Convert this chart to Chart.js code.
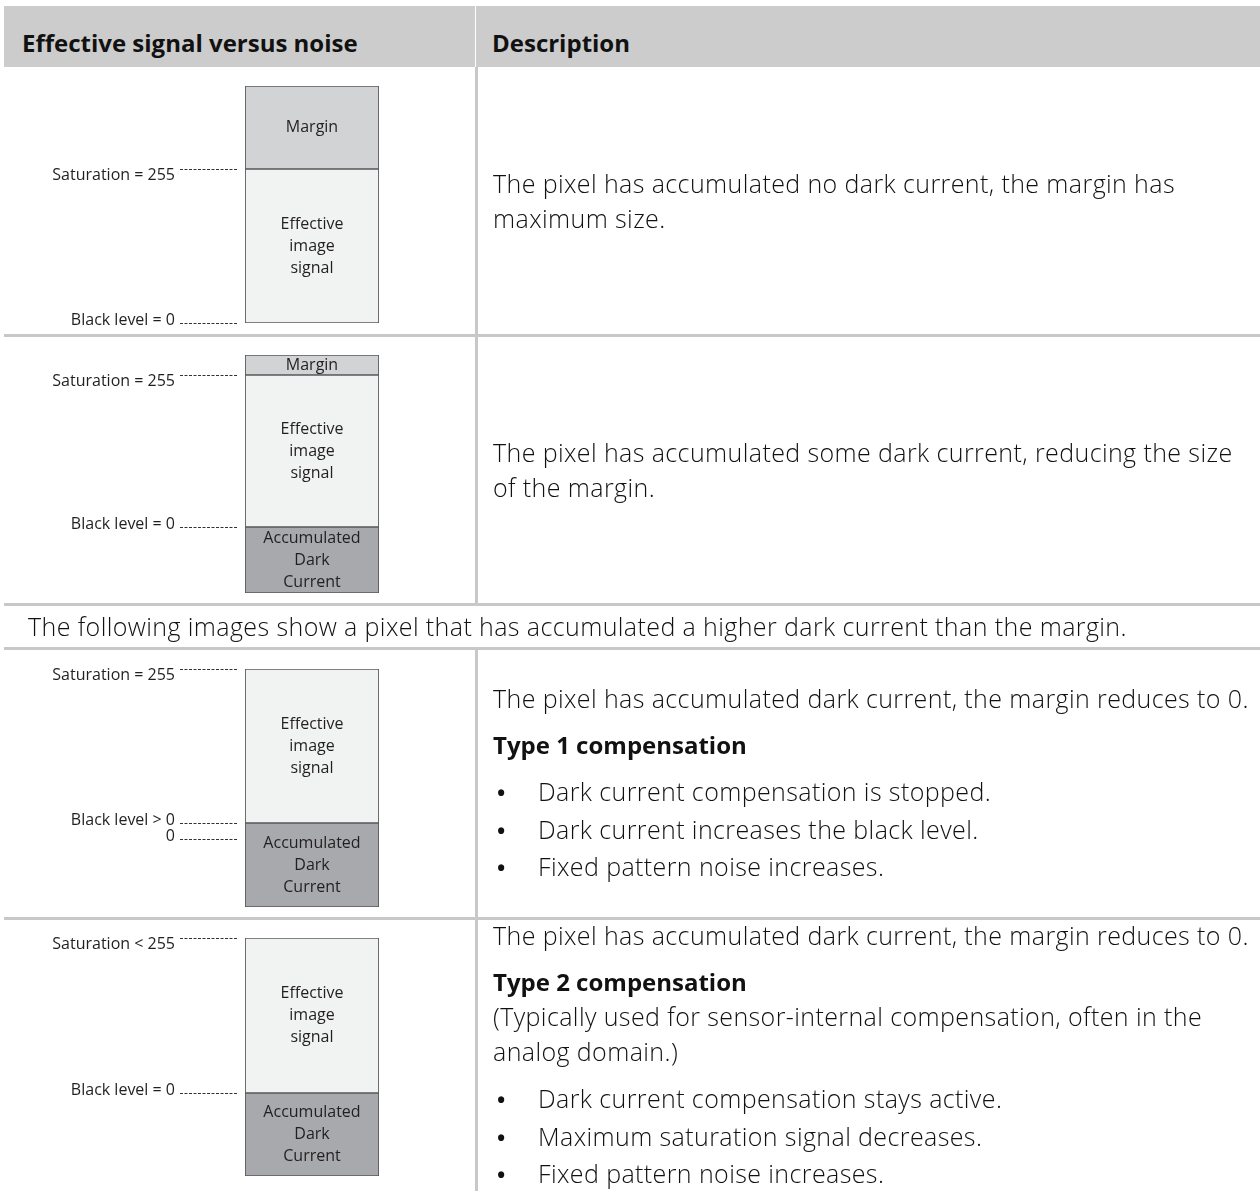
<!DOCTYPE html>
<html>
<head>
<meta charset="utf-8">
<script src="https://cdn.jsdelivr.net/npm/chart.js@4.4.1/dist/chart.umd.min.js"></script>
<style>
  body { margin: 0; background: #fff; font-family: "Open Sans", sans-serif; color: #111; }
  #page { position: relative; width: 1260px; height: 1191px; overflow: hidden; }
  .tbl { position: absolute; left: 4px; top: 6px; width: 1256px; }
  .hdr { display: flex; height: 61px; background: #cccccc; }
  .hdr div { font-weight: 700; font-size: 24px; line-height: 38px; padding-top: 18px; box-sizing: border-box; }
  .hdr .c1 { width: 472px; border-right: 1px solid #fff; padding-left: 18px; }
  .hdr .c2 { flex: 1; padding-left: 16px; }
  .row { display: flex; border-bottom: 3px solid #c8c8c8; }
  .row .c1 { width: 471px; border-right: 3px solid #c8c8c8; }
  .row .c1 canvas { display: block; }
  .row .c2 { flex: 1; padding-left: 15px; display: flex; flex-direction: column; justify-content: center;
             font-size: 25px; font-weight: 300; letter-spacing: 0.4px; line-height: 35px; white-space: nowrap; }
  .row .c2 p { margin: 0; }
  .row .c2 p + p, .row .c2 p + ul, .row .c2 ul + p { margin-top: 11px; }
  .row .c2 b { font-weight: 700; font-size: 24px; letter-spacing: 0; }
  .row .c2 ul { list-style: none; margin: 0; padding: 0; }
  .row .c2 li { line-height: 36.5px; }
  .row .c2 li::before { content: "\2022"; display: inline-block; width: 45px; padding-left: 4px; box-sizing: border-box;
                        font-weight: 700; font-size: 22px; letter-spacing: 0; }
  .full { height: 41px; border-bottom: 3px solid #c8c8c8; font-size: 25px; font-weight: 300; letter-spacing: 0.4px;
          line-height: 41px; padding-left: 24px; white-space: nowrap; }
</style>
</head>
<body>
<div id="page">
  <div class="tbl">
    <div class="hdr"><div class="c1">Effective signal versus noise</div><div class="c2">Description</div></div>
    <div class="row" style="height:267px">
      <div class="c1"><canvas id="chart0" width="471" height="267"></canvas></div>
      <div class="c2"><p>The pixel has accumulated no dark current, the margin has<br>maximum size.</p></div>
    </div>
    <div class="row" style="height:266px">
      <div class="c1"><canvas id="chart1" width="471" height="266"></canvas></div>
      <div class="c2"><p>The pixel has accumulated some dark current, reducing the size<br>of the margin.</p></div>
    </div>
    <div class="full">The following images show a pixel that has accumulated a higher dark current than the margin.</div>
    <div class="row" style="height:267px">
      <div class="c1"><canvas id="chart2" width="471" height="267"></canvas></div>
      <div class="c2">
        <p>The pixel has accumulated dark current, the margin reduces to 0.</p>
        <p><b>Type 1 compensation</b></p>
        <ul>
          <li>Dark current compensation is stopped.</li>
          <li>Dark current increases the black level.</li>
          <li>Fixed pattern noise increases.</li>
        </ul>
      </div>
    </div>
    <div class="row" style="height:271px;border-bottom:none">
      <div class="c1"><canvas id="chart3" width="471" height="271"></canvas></div>
      <div class="c2">
        <p>The pixel has accumulated dark current, the margin reduces to 0.</p>
        <p><b>Type 2 compensation</b><br>(Typically used for sensor-internal compensation, often in the<br>analog domain.)</p>
        <ul>
          <li>Dark current compensation stays active.</li>
          <li>Maximum saturation signal decreases.</li>
          <li>Fixed pattern noise increases.</li>
        </ul>
      </div>
    </div>
  </div>
</div>
<script>
// values per diagram (one bar each), bottom to top
const pixelCases = ["No dark current", "Some dark current", "Type 1 compensation", "Type 2 compensation"];
const darkCurrent = [0, 66, 84, 83];
const effectiveSignal = [154, 152, 154, 155];
const marginValues = [83, 20, 0, 0];

// text written inside each segment
const darkCurrentText = ["Accumulated", "Dark", "Current"];
const effectiveText = ["Effective", "image", "signal"];
const marginText = ["Margin"];

// level marks on the left of each bar
const levelLabels = [
  ["Saturation = 255", "Black level = 0"],
  ["Saturation = 255", "Black level = 0"],
  ["Saturation = 255", "Black level > 0", "0"],
  ["Saturation < 255", "Black level = 0"]
];
const levelValues = [
  [154, 0],
  [218, 66],
  [238, 84, 68],
  [238, 83]
];

// padding that puts the bar where it sits in the table cell
const chartPadding = [
  { left: 241, right: 96, top: 19, bottom: 11 },
  { left: 241, right: 96, top: 18, bottom: 10 },
  { left: 241, right: 96, top: 19, bottom: 10 },
  { left: 241, right: 96, top: 18, bottom: 15 }
];

const segmentLabels = {
  id: "segmentLabels",
  afterDatasetsDraw(chart) {
    const ctx = chart.ctx;
    ctx.save();
    ctx.font = "16px 'Open Sans'";
    ctx.fillStyle = "#231f20";
    ctx.textAlign = "center";
    ctx.textBaseline = "middle";
    chart.data.datasets.forEach((ds, i) => {
      const meta = chart.getDatasetMeta(i);
      meta.data.forEach(bar => {
        if (Math.abs(bar.base - bar.y) < 1) return;
        const lines = ds.textLines;
        const cy = (bar.y + bar.base) / 2;
        lines.forEach((line, k) => {
          ctx.fillText(line, bar.x, cy + (k - (lines.length - 1) / 2) * 22);
        });
      });
    });
    ctx.restore();
  }
};

const levelMarks = {
  id: "levelMarks",
  afterDraw(chart) {
    const idx = chart.options.plugins.levelMarks.index;
    const ctx = chart.ctx;
    const left = chart.chartArea.left;
    ctx.save();
    ctx.font = "16px 'Open Sans'";
    ctx.fillStyle = "#231f20";
    ctx.strokeStyle = "#333";
    ctx.lineWidth = 1;
    ctx.setLineDash([3, 1.5]);
    ctx.textAlign = "right";
    levelValues[idx].forEach((v, k) => {
      const y = Math.round(chart.scales.y.getPixelForValue(v)) + 0.5;
      ctx.beginPath();
      ctx.moveTo(left - 65, y);
      ctx.lineTo(left - 7, y);
      ctx.stroke();
      if (k === 0) {
        ctx.textBaseline = "middle";
        ctx.fillText(levelLabels[idx][k], left - 70, y + 6);
      } else {
        ctx.textBaseline = "alphabetic";
        ctx.fillText(levelLabels[idx][k], left - 70, y + 1);
      }
    });
    ctx.restore();
  }
};

function createChart(canvas, idx) {
  const total = darkCurrent[idx] + effectiveSignal[idx] + marginValues[idx];
  const common = { borderColor: "#58595b", borderWidth: 1.2, borderSkipped: false,
                   barPercentage: 1, categoryPercentage: 1 };
  return new Chart(canvas, {
    type: "bar",
    data: {
      labels: [pixelCases[idx]],
      datasets: [
        { label: "Accumulated Dark Current", data: [darkCurrent[idx]], backgroundColor: "#a7a9ac", textLines: darkCurrentText, ...common },
        { label: "Effective image signal", data: [effectiveSignal[idx]], backgroundColor: "#f1f2f2", textLines: effectiveText, ...common },
        { label: "Margin", data: [marginValues[idx]], backgroundColor: "#d1d3d4", textLines: marginText, ...common }
      ]
    },
    options: {
      responsive: false,
      animation: false,
      layout: { padding: chartPadding[idx] },
      scales: {
        x: { stacked: true, display: false },
        y: { stacked: true, display: false, min: 0, max: total }
      },
      plugins: {
        legend: { display: false },
        tooltip: { enabled: false },
        levelMarks: { index: idx }
      }
    },
    plugins: [segmentLabels, levelMarks]
  });
}

const charts = pixelCases.map((c, i) => createChart(document.getElementById("chart" + i), i));
</script>
</body>
</html>
